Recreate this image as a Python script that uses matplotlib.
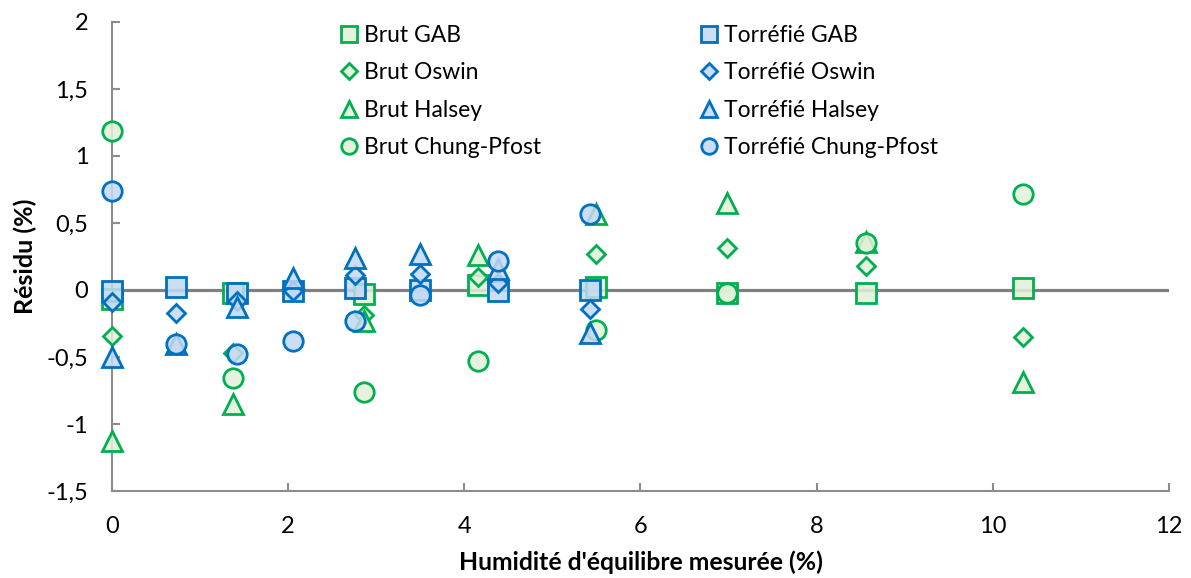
import matplotlib
matplotlib.use('Agg')
import matplotlib.pyplot as plt
from matplotlib.lines import Line2D
from matplotlib.ticker import FuncFormatter

plt.rcParams['font.family'] = ['Lato', 'DejaVu Sans']

# humidité d'équilibre mesurée (%)
x_brut = [0, 1.37, 2.86, 4.15, 5.50, 6.98, 8.56, 10.34]
x_torr = [0, 0.73, 1.42, 2.05, 2.76, 3.50, 4.38, 5.43]

# résidus (%)
brut_gab    = [-0.07, -0.02, -0.03, 0.04, 0.02, -0.02, -0.02, 0.015]
brut_oswin  = [-0.34, -0.47, -0.19, 0.10, 0.27, 0.31, 0.18, -0.35]
brut_halsey = [-1.13, -0.85, -0.23, 0.26, 0.57, 0.65, 0.36, -0.69]
brut_chung  = [1.19, -0.66, -0.76, -0.53, -0.30, -0.02, 0.35, 0.72]

torr_gab    = [-0.01, 0.02, -0.02, -0.01, 0.015, 0.0, -0.01, 0.0]
torr_oswin  = [-0.09, -0.17, -0.08, -0.01, 0.11, 0.12, 0.05, -0.14]
torr_halsey = [-0.50, -0.40, -0.13, 0.09, 0.24, 0.27, 0.16, -0.32]
torr_chung  = [0.74, -0.40, -0.48, -0.38, -0.23, -0.04, 0.22, 0.57]

GREEN = '#00B050'
GREEN_FILL = (0.89, 0.94, 0.85, 0.85)
BLUE = '#0070C0'
BLUE_FILL = (0.77, 0.85, 0.95, 0.85)
GREY = '#8C8C8C'

fig = plt.figure(figsize=(11.91, 5.78), dpi=100)
ax = fig.add_axes([0.094, 0.1505, 0.8875, 0.8115])

series = [
    ('Brut GAB', x_brut, brut_gab, 's', 14, GREEN, GREEN_FILL),
    ('Brut Oswin', x_brut, brut_oswin, 'D', 9, GREEN, GREEN_FILL),
    ('Brut Halsey', x_brut, brut_halsey, '^', 14, GREEN, GREEN_FILL),
    ('Brut Chung-Pfost', x_brut, brut_chung, 'o', 14, GREEN, GREEN_FILL),
    ('Torréfié GAB', x_torr, torr_gab, 's', 14, BLUE, BLUE_FILL),
    ('Torréfié Oswin', x_torr, torr_oswin, 'D', 9, BLUE, BLUE_FILL),
    ('Torréfié Halsey', x_torr, torr_halsey, '^', 14, BLUE, BLUE_FILL),
    ('Torréfié Chung-Pfost', x_torr, torr_chung, 'o', 14, BLUE, BLUE_FILL),
]

handles = []
for label, xs, ys, m, ms, ec, fc in series:
    ax.plot(xs, ys, linestyle='none', marker=m, markersize=ms,
            markeredgecolor=ec, markerfacecolor=fc, markeredgewidth=2,
            zorder=3, clip_on=False)
    handles.append(Line2D([], [], linestyle='none', marker=m,
                          markersize=ms * (0.85 if m == 'D' else 0.8),
                          markeredgecolor=ec, markerfacecolor=fc,
                          markeredgewidth=2, label=label))

ax.axhline(0, color='#808080', linewidth=2.3, zorder=2)

ax.set_xlim(0, 12)
ax.set_ylim(-1.5, 2)
ax.set_xticks(range(0, 13, 2))
ax.set_yticks([-1.5, -1, -0.5, 0, 0.5, 1, 1.5, 2])
ax.yaxis.set_major_formatter(FuncFormatter(lambda v, p: ('%g' % v).replace('.', ',')))

for side in ['top', 'right']:
    ax.spines[side].set_visible(False)
for side in ['left', 'bottom']:
    ax.spines[side].set_color(GREY)
    ax.spines[side].set_linewidth(1.5)
ax.tick_params(direction='in', length=6, width=1.5, color=GREY, labelsize=17)
ax.tick_params(axis='y', pad=17)
ax.tick_params(axis='x', pad=18)

ax.set_xlabel("Humidité d'équilibre mesurée (%)", fontsize=17.8,
              fontweight='bold', labelpad=10)
ax.set_ylabel('Résidu (%)', fontsize=18, fontweight='bold', labelpad=7)

ax.legend(handles=handles, ncol=2, frameon=False, fontsize=16.5,
          loc='upper left', bbox_to_anchor=(0.2138, 0.994),
          handletextpad=0.15, columnspacing=6.8, labelspacing=0.72,
          handlelength=1.0, borderpad=0, borderaxespad=0)

fig.savefig('out.png', dpi=100)
